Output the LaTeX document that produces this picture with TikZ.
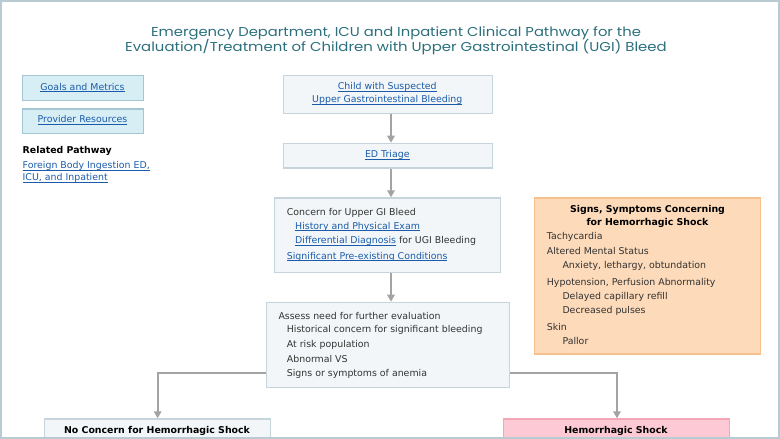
\documentclass[tikz,border=0pt]{standalone}
\usepackage{fontspec}
\usepackage{graphicx}
\setmainfont{DejaVu Sans}
\newfontfamily\titlefont{Poppins}
\usetikzlibrary{arrows.meta}
\definecolor{frameC}{HTML}{B8CAD2}
\definecolor{titleC}{HTML}{2B6F7C}
\definecolor{textC}{HTML}{333333}
\definecolor{linkC}{HTML}{1A5CAB}
\definecolor{boxFill}{HTML}{F3F6F8}
\definecolor{boxDraw}{HTML}{C6D4DB}
\definecolor{blueFill}{HTML}{D8EEF5}
\definecolor{blueDraw}{HTML}{A3C6D3}
\definecolor{orFill}{HTML}{FDDAB9}
\definecolor{orDraw}{HTML}{F6C18C}
\definecolor{pkFill}{HTML}{FDC9D5}
\definecolor{pkDraw}{HTML}{F4A6B5}
\definecolor{arrC}{HTML}{A3A3A3}
\newcommand\lnk[1]{{\color{linkC}\setbox0\hbox{#1}\rlap{\rule[-1.9pt]{\wd0}{0.6pt}}\box0}}
\begin{document}
\begin{tikzpicture}[x=1pt,y=-1pt,
  box/.style={draw=boxDraw,fill=boxFill,line width=1.3pt,rectangle,inner sep=0pt,anchor=north west},
  bluebox/.style={box,draw=blueDraw,fill=blueFill},
  orbox/.style={box,draw=orDraw,fill=orFill},
  pkbox/.style={box,draw=pkDraw,fill=pkFill},
  txt/.style={inner sep=0pt,anchor=base west,text=textC,font=\fontsize{9.4}{11}\selectfont},
  ctxt/.style={txt,anchor=base},
  btxt/.style={ctxt,font=\fontsize{9.4}{11}\selectfont\bfseries},
  ttl/.style={inner sep=0pt,anchor=base,text=titleC,font=\titlefont\fontsize{12.9}{16}\selectfont},
  conn/.style={draw=arrC,line width=1.8pt},
  arr/.style={conn,-{Triangle[width=7.5pt,length=7pt]}}]
\useasboundingbox (0,0) rectangle (780,439);
\clip (0,0) rectangle (780,439);
% title
\node[ttl] (t1) at (396,36.2) {\scalebox{1.145}[1]{Emergency Department, ICU and Inpatient Clinical Pathway for the}};
\node[ttl] (t2) at (396,51.2) {\scalebox{1.155}[1]{Evaluation/Treatment of Children with Upper Gastrointestinal (UGI) Bleed}};
% left column
\node[bluebox,minimum width=121pt,minimum height=25pt] (goals) at (22,75) {};
\node[ctxt] (goalsT) at (82.5,90) {\lnk{Goals and Metrics}};
\node[bluebox,minimum width=121pt,minimum height=24.5pt] (prov) at (22,108.2) {};
\node[ctxt] (provT) at (82.5,122.7) {\lnk{Provider Resources}};
\node[txt,font=\fontsize{9.4}{11}\selectfont\bfseries,text=black] (rel) at (22.5,153.5) {Related Pathway};
\node[txt] (fb1) at (22.5,168.5) {\lnk{Foreign Body Ingestion ED,}};
\node[txt] (fb2) at (22.5,180.5) {\lnk{ICU, and Inpatient}};
% main column
\node[box,minimum width=208.5pt,minimum height=37.7pt] (child) at (283,75) {};
\node[ctxt] (childT1) at (387.3,89.5) {\lnk{Child with Suspected}};
\node[ctxt] (childT2) at (387.3,102.2) {\lnk{Upper Gastrointestinal Bleeding}};
\node[box,minimum width=208.5pt,minimum height=24.6pt] (triage) at (283,142.7) {};
\node[ctxt] (triageT) at (387.3,157.5) {\lnk{ED Triage}};
\node[box,minimum width=226pt,minimum height=74.4pt] (concern) at (274,197.3) {};
\node[txt] (c1) at (286.7,215) {Concern for Upper GI Bleed};
\node[txt] (c2) at (295,229) {\lnk{History and Physical Exam}};
\node[txt] (c3) at (295,243.5) {\lnk{Differential Diagnosis} for UGI Bleeding};
\node[txt] (c4) at (286.7,259) {\lnk{Significant Pre-existing Conditions}};
\node[box,minimum width=242.5pt,minimum height=85pt] (assess) at (266,301.7) {};
\node[txt] (a1) at (278.3,319) {Assess need for further evaluation};
\node[txt] (a2) at (286.7,332.5) {Historical concern for significant bleeding};
\node[txt] (a3) at (286.7,347.5) {At risk population};
\node[txt] (a4) at (286.7,362) {Abnormal VS};
\node[txt] (a5) at (286.7,376.5) {Signs or symptoms of anemia};
% signs box
\node[orbox,minimum width=226pt,minimum height=156pt] (signs) at (534,197.3) {};
\node[btxt,text=black] (s0a) at (647.5,212.7) {Signs, Symptoms Concerning};
\node[btxt,text=black] (s0b) at (647.5,225.4) {for Hemorrhagic Shock};
\node[txt] (s1) at (546.7,239) {Tachycardia};
\node[txt] (s2) at (546.7,254.3) {Altered Mental Status};
\node[txt] (s3) at (562.3,268.3) {Anxiety, lethargy, obtundation};
\node[txt] (s4) at (546.7,285) {Hypotension, Perfusion Abnormality};
\node[txt] (s5) at (562.3,299.3) {Delayed capillary refill};
\node[txt] (s6) at (562.3,313.3) {Decreased pulses};
\node[txt] (s7) at (546.7,330) {Skin};
\node[txt] (s8) at (562.3,344.3) {Pallor};
% bottom boxes
\node[box,minimum width=226pt,minimum height=30pt] (nocon) at (44,418.3) {};
\node[btxt,text=black] (noconT) at (157,433) {No Concern for Hemorrhagic Shock};
\node[pkbox,minimum width=226pt,minimum height=30pt] (shock) at (503,418.3) {};
\node[btxt,text=black] (shockT) at (616,433) {Hemorrhagic Shock};
% connectors
\draw[arr] (child.south -| 391,0) -- (triage.north -| 391,0);
\draw[arr] (triage.south -| 391,0) -- (concern.north -| 391,0);
\draw[arr] (concern.south -| 391,0) -- (assess.north -| 391,0);
\draw[arr] (assess.west |- 0,372.7) -| (nocon.north);
\draw[arr] (assess.east |- 0,372.7) -| (shock.north -| 617,0);
% frame
\draw[frameC,line width=2pt] (1,1) rectangle (778.7,437.8);
\end{tikzpicture}
\end{document}
